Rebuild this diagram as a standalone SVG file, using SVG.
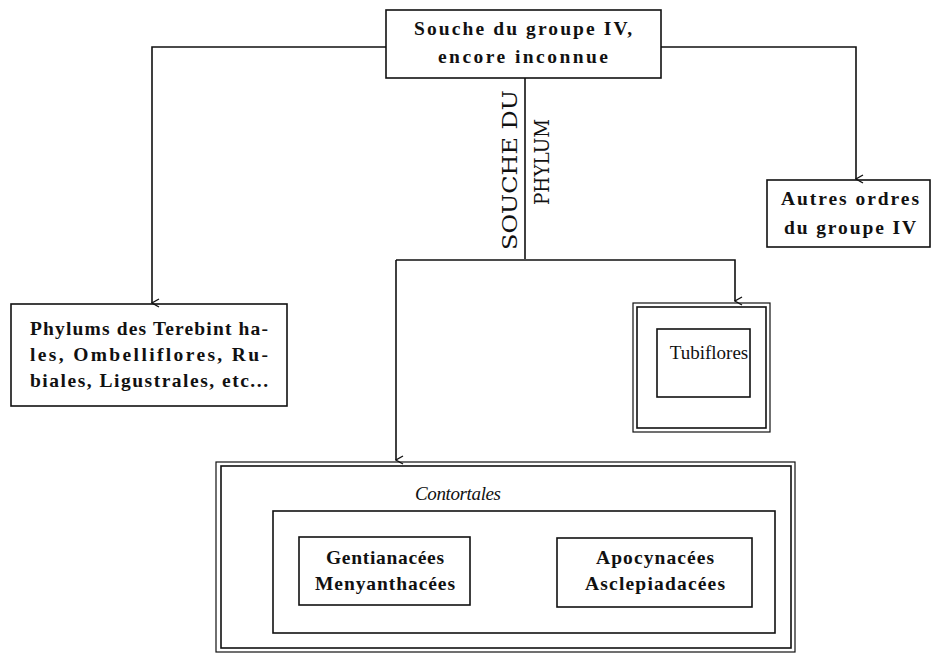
<svg xmlns="http://www.w3.org/2000/svg" width="934" height="654" viewBox="0 0 934 654">
<defs>
<style>
.box{fill:none;stroke:#111;stroke-width:1.6}
.thin{fill:none;stroke:#111;stroke-width:1.2}
.ln{fill:none;stroke:#111;stroke-width:1.6}
.t{font-family:"Liberation Serif",serif;font-size:19.5px;font-weight:bold;fill:#111;text-anchor:middle}
.mono{font-family:"DejaVu Serif","Liberation Serif",serif;font-size:21px;fill:#111}
.it{font-family:"Liberation Serif",serif;font-size:19px;font-style:italic;fill:#111;text-anchor:middle}
</style>
<marker id="arr" viewBox="0 0 10 12" refX="5" refY="11" markerWidth="10" markerHeight="12" markerUnits="userSpaceOnUse" orient="auto-start-reverse">
<path d="M1,4 L5,11 L9,4" fill="none" stroke="#111" stroke-width="1.3"/>
</marker>
</defs>
<rect width="934" height="654" fill="#fff"/>

<g id="connectors">
<path class="ln" d="M386,47 H152 V303" marker-end="url(#arr)"/>
<path class="ln" d="M661,47 H856 V179" marker-end="url(#arr)"/>
<path class="ln" d="M525,78 V259"/>
<path class="ln" d="M396,260 H735 V301" marker-end="url(#arr)"/>
<path class="ln" d="M396,260 V460" marker-end="url(#arr)"/>
</g>

<g id="souche">
<rect class="box" x="386" y="10" width="275" height="68"/>
<text class="t" x="523" y="35" textLength="218" lengthAdjust="spacing">Souche du groupe IV,</text>
<text class="t" x="523" y="63" textLength="170" lengthAdjust="spacing">encore inconnue</text>
</g>

<g id="label-souche-phylum">
<text class="mono" transform="translate(517,250) rotate(-90)" textLength="160" lengthAdjust="spacingAndGlyphs">SOUCHE DU</text>
<text class="mono" transform="translate(549,205) rotate(-90)" textLength="86" lengthAdjust="spacingAndGlyphs">PHYLUM</text>
</g>

<g id="autres">
<rect class="box" x="767" y="180" width="163" height="67"/>
<text class="t" x="850" y="205" textLength="138" lengthAdjust="spacing">Autres ordres</text>
<text class="t" x="850" y="234" textLength="132" lengthAdjust="spacing">du groupe IV</text>
</g>

<g id="phylums">
<rect class="box" x="11" y="304" width="276" height="102"/>
<text class="t" style="text-anchor:start" x="30" y="335" textLength="238" lengthAdjust="spacing">Phylums des Terebint ha-</text>
<text class="t" style="text-anchor:start" x="30" y="361" textLength="238" lengthAdjust="spacing">les, Ombelliflores, Ru-</text>
<text class="t" style="text-anchor:start" x="30" y="387" textLength="238" lengthAdjust="spacing">biales, Ligustrales, etc...</text>
</g>

<g id="tubiflores">
<rect class="thin" x="633" y="303" width="137" height="129"/>
<rect class="box" x="637" y="307" width="129" height="121"/>
<rect class="box" x="657" y="329" width="93" height="68"/>
<text class="t" style="font-weight:normal;font-size:19px" x="709" y="359">Tubiflores</text>
</g>

<g id="contortales">
<rect class="thin" x="216" y="462" width="579" height="190"/>
<rect class="box" x="221" y="466" width="570" height="182"/>
<text class="it" x="458" y="500" textLength="86" lengthAdjust="spacing">Contortales</text>
<rect class="box" x="273" y="511" width="502" height="122"/>
</g>

<g id="gentianacees">
<rect class="box" x="299" y="537" width="171" height="68"/>
<text class="t" x="385" y="564" textLength="118" lengthAdjust="spacing">Gentianacées</text>
<text class="t" x="385" y="590" textLength="140" lengthAdjust="spacing">Menyanthacées</text>
</g>

<g id="apocynacees">
<rect class="box" x="557" y="538" width="195" height="69"/>
<text class="t" x="655" y="564" textLength="118" lengthAdjust="spacing">Apocynacées</text>
<text class="t" x="655" y="590" textLength="140" lengthAdjust="spacing">Asclepiadacées</text>
</g>
</svg>
